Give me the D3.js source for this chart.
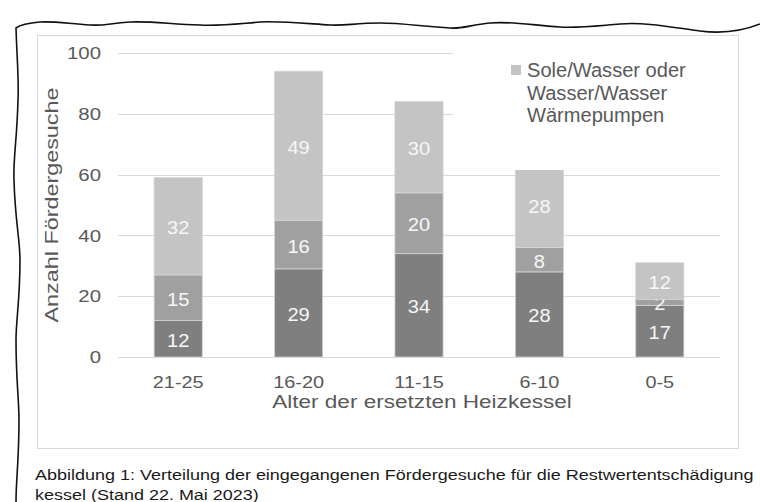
<!DOCTYPE html>
<html>
<head>
<meta charset="utf-8">
<script src="https://cdn.jsdelivr.net/npm/d3@7"></script>
<style>
  body { margin: 0; background: #fff; }
  svg { display: block; font-family: "Liberation Sans", Arial, sans-serif; }
</style>
</head>
<body>
<div id="chart"></div>
<script>
const categories = ['21-25', '16-20', '11-15', '6-10', '0-5'];
const seriesNames = ['Serie 1', 'Serie 2', 'Sole/Wasser oder Wasser/Wasser Wärmepumpen'];
const seriesBottom = [12, 29, 34, 28, 17];
const seriesMiddle = [15, 16, 20, 8, 2];
const seriesTop = [32, 49, 30, 28, 12];
const yTicks = [0, 20, 40, 60, 80, 100];
const colors = ['#7f7f7f', '#a0a0a0', '#c4c4c4'];

const width = 760, height = 502;

const svg = d3.select('#chart')
  .append('svg')
  .attr('width', width)
  .attr('height', height);

// the source font is a bit wider than Arial, so texts get a horizontal stretch
function wideText(parent, px, py, k, rot) {
  return parent.append('text')
    .attr('transform', `translate(${px},${py})${rot ? ` rotate(${rot})` : ''} scale(${k},1)`);
}

// torn paper edge
svg.append('path')
  .attr('d', 'M760,24 C735,34 715,33 700,31 C670,27 645,22 620,24 C595,26 580,28 560,27 ' +
    'C530,25 510,21 490,23 C470,25 462,29 450,28 C420,26 400,23 380,23 C355,23 345,26 330,25 ' +
    'C300,23 280,21 260,22 C235,24 220,26 200,25 C170,24 150,21 130,22 C110,23 105,26 90,25 ' +
    'C70,24 55,21 40,22 C28,23 20,25 16,28 C17,60 19,80 18,100 C17,140 13,160 14,180 ' +
    'C15,220 20,240 20,260 C20,300 16,320 16,340 C16,380 19,400 19,420 C19,460 16,480 16,502')
  .attr('fill', 'none')
  .attr('stroke', '#111')
  .attr('stroke-width', 1.6);

// chart area border
svg.append('rect')
  .attr('x', 37.5).attr('y', 35.5)
  .attr('width', 701).attr('height', 413)
  .attr('fill', '#fff')
  .attr('stroke', '#d9d9d9')
  .attr('stroke-width', 1);

const x = d3.scaleBand()
  .domain(categories)
  .range([118, 720])
  .paddingInner(0.6)
  .paddingOuter(0.3);

const y = d3.scaleLinear()
  .domain([0, 100])
  .range([357, 53]);

// gridlines
svg.append('g')
  .selectAll('line')
  .data(yTicks)
  .enter()
  .append('line')
  .attr('x1', 118).attr('x2', 720)
  .attr('y1', d => Math.round(y(d)) + 0.5)
  .attr('y2', d => Math.round(y(d)) + 0.5)
  .attr('stroke', '#d9d9d9')
  .attr('stroke-width', 1.2);

// y tick labels
const yLabels = svg.append('g');
yTicks.forEach(t => {
  wideText(yLabels, 101, y(t), 1.2)
    .attr('dy', '0.36em')
    .attr('text-anchor', 'end')
    .attr('font-size', 17)
    .attr('fill', '#595959')
    .text(t);
});

// stacked bars
const rows = categories.map((c, i) => ({
  cat: c,
  [seriesNames[0]]: seriesBottom[i],
  [seriesNames[1]]: seriesMiddle[i],
  [seriesNames[2]]: seriesTop[i]
}));
const stack = d3.stack().keys(seriesNames)(rows);

const layer = svg.append('g')
  .selectAll('g')
  .data(stack)
  .enter()
  .append('g')
  .attr('fill', (d, i) => colors[i]);

layer.selectAll('rect')
  .data(d => d)
  .enter()
  .append('rect')
  .attr('x', d => x(d.data.cat))
  .attr('width', x.bandwidth())
  .attr('y', d => y(d[1]))
  .attr('height', d => y(d[0]) - y(d[1]))
  .attr('stroke', '#d4d4d4')
  .attr('stroke-width', 0.8);

layer.selectAll('text')
  .data(d => d)
  .enter()
  .append('text')
  .attr('transform', d => `translate(${x(d.data.cat) + x.bandwidth() / 2},${(y(d[0]) + y(d[1])) / 2}) scale(1.06,1)`)
  .attr('dy', '0.42em')
  .attr('text-anchor', 'middle')
  .attr('font-size', 19)
  .attr('fill', '#f7f7f7')
  .text(d => d[1] - d[0]);

// x tick labels
const xLabels = svg.append('g');
categories.forEach(c => {
  wideText(xLabels, x(c) + x.bandwidth() / 2, 387.5, 1.17)
    .attr('text-anchor', 'middle')
    .attr('font-size', 17)
    .attr('fill', '#595959')
    .text(c);
});

// axis titles
wideText(svg, 422, 408, 1.22)
  .attr('text-anchor', 'middle')
  .attr('font-size', 18.5)
  .attr('fill', '#595959')
  .text('Alter der ersetzten Heizkessel');

wideText(svg, 58, (y(0) + y(100)) / 2, 1.23, -90)
  .attr('text-anchor', 'middle')
  .attr('font-size', 19)
  .attr('fill', '#595959')
  .text('Anzahl Fördergesuche');

// legend (only the first entry fits in the visible area)
const legend = svg.append('g');
legend.append('rect')
  .attr('x', 453).attr('y', 48)
  .attr('width', 267).attr('height', 122)
  .attr('fill', '#fff');
legend.append('rect')
  .attr('x', 511).attr('y', 65)
  .attr('width', 10).attr('height', 10)
  .attr('fill', colors[2]);
const legendLines = ['Sole/Wasser oder', 'Wasser/Wasser', 'Wärmepumpen'];
legendLines.forEach((l, i) => {
  wideText(legend, 527, 77 + i * 22.5, 1.03)
    .attr('font-size', 19.5)
    .attr('fill', '#595959')
    .text(l);
});

// caption
const captionLines = [
  'Abbildung 1: Verteilung der eingegangenen Fördergesuche für die Restwertentschädigung',
  'kessel (Stand 22. Mai 2023)'
];
captionLines.forEach((l, i) => {
  wideText(svg, 35, 480 + i * 19.5, 1.2)
    .attr('font-size', 15)
    .attr('fill', '#1a1a1a')
    .text(l);
});
</script>
</body>
</html>
